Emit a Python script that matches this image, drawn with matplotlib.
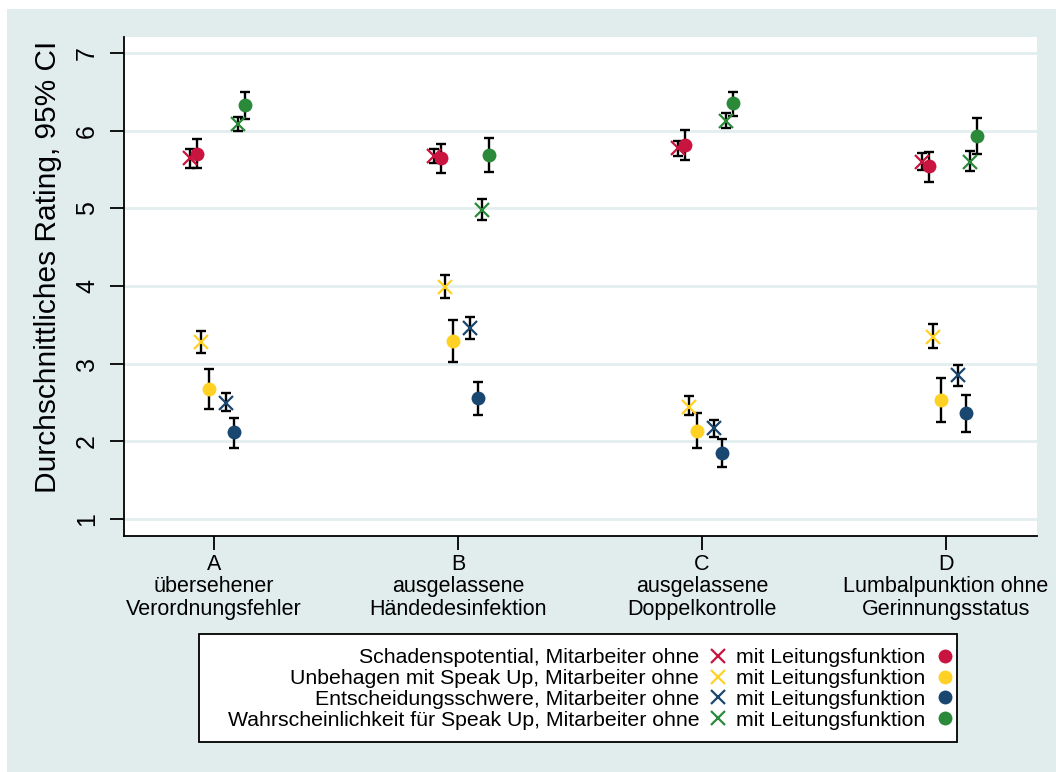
import matplotlib.pyplot as plt
from matplotlib.patches import Rectangle
from matplotlib.lines import Line2D

plt.rcParams['font.family'] = ['Liberation Sans', 'DejaVu Sans']

# Kategorien (x-Achse)
categories = ['A\nübersehener\nVerordnungsfehler',
              'B\nausgelassene\nHändedesinfektion',
              'C\nausgelassene\nDoppelkontrolle',
              'D\nLumbalpunktion ohne\nGerinnungsstatus']

# Mittelwerte und 95%-CI je Item, Gruppe "ohne" (x) und "mit" (Punkt)
schaden_ohne = [5.65, 5.67, 5.78, 5.60]
schaden_ohne_lo = [5.52, 5.58, 5.67, 5.49]
schaden_ohne_hi = [5.76, 5.76, 5.87, 5.71]
schaden_mit = [5.70, 5.65, 5.82, 5.55]
schaden_mit_lo = [5.52, 5.46, 5.62, 5.34]
schaden_mit_hi = [5.89, 5.83, 6.01, 5.73]

unbehagen_ohne = [3.28, 3.99, 2.44, 3.34]
unbehagen_ohne_lo = [3.14, 3.85, 2.34, 3.20]
unbehagen_ohne_hi = [3.42, 4.14, 2.58, 3.51]
unbehagen_mit = [2.67, 3.29, 2.13, 2.53]
unbehagen_mit_lo = [2.42, 3.02, 1.91, 2.25]
unbehagen_mit_hi = [2.93, 3.56, 2.36, 2.82]

entscheidung_ohne = [2.49, 3.46, 2.17, 2.85]
entscheidung_ohne_lo = [2.39, 3.32, 2.06, 2.71]
entscheidung_ohne_hi = [2.62, 3.60, 2.27, 2.98]
entscheidung_mit = [2.12, 2.56, 1.85, 2.37]
entscheidung_mit_lo = [1.91, 2.34, 1.67, 2.12]
entscheidung_mit_hi = [2.30, 2.76, 2.03, 2.60]

wahrsch_ohne = [6.09, 4.98, 6.12, 5.60]
wahrsch_ohne_lo = [6.00, 4.85, 6.03, 5.48]
wahrsch_ohne_hi = [6.18, 5.12, 6.23, 5.74]
wahrsch_mit = [6.33, 5.69, 6.36, 5.93]
wahrsch_mit_lo = [6.15, 5.47, 6.19, 5.70]
wahrsch_mit_hi = [6.50, 5.91, 6.50, 6.16]

labels = ['Schadenspotential', 'Unbehagen mit Speak Up',
          'Entscheidungsschwere', 'Wahrscheinlichkeit für Speak Up']
colors = ['#C8143F', '#FFD124', '#1A476F', '#2B8A3A']

series = [
    (schaden_ohne, schaden_ohne_lo, schaden_ohne_hi, schaden_mit, schaden_mit_lo, schaden_mit_hi),
    (unbehagen_ohne, unbehagen_ohne_lo, unbehagen_ohne_hi, unbehagen_mit, unbehagen_mit_lo, unbehagen_mit_hi),
    (entscheidung_ohne, entscheidung_ohne_lo, entscheidung_ohne_hi, entscheidung_mit, entscheidung_mit_lo, entscheidung_mit_hi),
    (wahrsch_ohne, wahrsch_ohne_lo, wahrsch_ohne_hi, wahrsch_mit, wahrsch_mit_lo, wahrsch_mit_hi),
]
# Versatz je Serie (ohne, mit)
offsets = [(-0.10, -0.068), (-0.052, -0.02), (0.05, 0.082), (0.098, 0.128)]

bg = '#E1EDED'
fig = plt.figure(figsize=(10.56, 7.72), dpi=100, facecolor=bg)
# weisser Rand oben/links
fig.patches.append(Rectangle((0, 1 - 9 / 772), 1, 9 / 772, transform=fig.transFigure,
                             facecolor='white', edgecolor='none', zorder=-10))
fig.patches.append(Rectangle((0, 0), 7 / 1056, 1, transform=fig.transFigure,
                             facecolor='white', edgecolor='none', zorder=-10))

ax = fig.add_axes([124 / 1056, 1 - 536 / 772, (1037 - 124) / 1056, (536 - 37) / 772])
ax.set_facecolor('white')

xs = [1, 2, 3, 4]
for (ohne, olo, ohi, mit, mlo, mhi), col, (do, dm) in zip(series, colors, offsets):
    xo = [x + do for x in xs]
    xm = [x + dm for x in xs]
    ax.errorbar(xo, ohne, yerr=[[a - b for a, b in zip(ohne, olo)], [b - a for a, b in zip(ohne, ohi)]],
                fmt='none', ecolor='black', elinewidth=1.7, capsize=3.8, capthick=1.7, zorder=3)
    ax.errorbar(xm, mit, yerr=[[a - b for a, b in zip(mit, mlo)], [b - a for a, b in zip(mit, mhi)]],
                fmt='none', ecolor='black', elinewidth=1.7, capsize=3.8, capthick=1.7, zorder=3)
    ax.plot(xo, ohne, 'x', color=col, markersize=10.5, markeredgewidth=1.6, zorder=4)
    ax.plot(xm, mit, 'o', color=col, markersize=10, markeredgewidth=0, zorder=4)

ax.set_xlim(0.631, 4.373)
ax.set_ylim(0.781, 7.206)
ax.set_yticks([1, 2, 3, 4, 5, 6, 7])
ax.set_xticks(xs)
ax.set_xticklabels(categories, fontsize=15.5, linespacing=1.08)
ax.tick_params(axis='y', labelsize=18, length=10, width=1.3, pad=8, labelrotation=90)
ax.tick_params(axis='x', length=10, width=1.3, pad=3)
for t in ax.get_yticklabels():
    t.set_va('center')
ax.grid(axis='y', color='#E3EEEE', linewidth=2, zorder=0)
ax.set_axisbelow(True)
for s in ['top', 'right']:
    ax.spines[s].set_visible(False)
for s in ['left', 'bottom']:
    ax.spines[s].set_linewidth(1.3)
ax.set_ylabel('Durchschnittliches Rating, 95% CI', fontsize=21.5)
ax.yaxis.set_label_coords(-0.068, 0.539)

# Legende
fig.patches.append(Rectangle((199 / 1056, 1 - 742 / 772), (957 - 199) / 1056, (742 - 634) / 772,
                             transform=fig.transFigure, facecolor='white', edgecolor='black',
                             linewidth=1.3, zorder=1))
handles = []
names = []
for lab, col in zip(labels, colors):
    handles.append(Line2D([], [], linestyle='none', marker='x', color=col, markersize=10.5, markeredgewidth=1.6))
    names.append(lab + ', Mitarbeiter ohne')
for lab, col in zip(labels, colors):
    handles.append(Line2D([], [], linestyle='none', marker='o', color=col, markersize=10, markeredgewidth=0))
    names.append('mit Leitungsfunktion')
leg = fig.legend(handles, names, ncol=2, markerfirst=False, frameon=False, fontsize=15.3,
                 loc='center', bbox_to_anchor=(591 / 1056, 1 - 689 / 772),
                 labelspacing=0.08, handlelength=0.9, handletextpad=0.45, columnspacing=0.4,
                 borderpad=0, numpoints=1)
leg.set_zorder(2)

plt.savefig('out.png', dpi=100, facecolor=bg)
